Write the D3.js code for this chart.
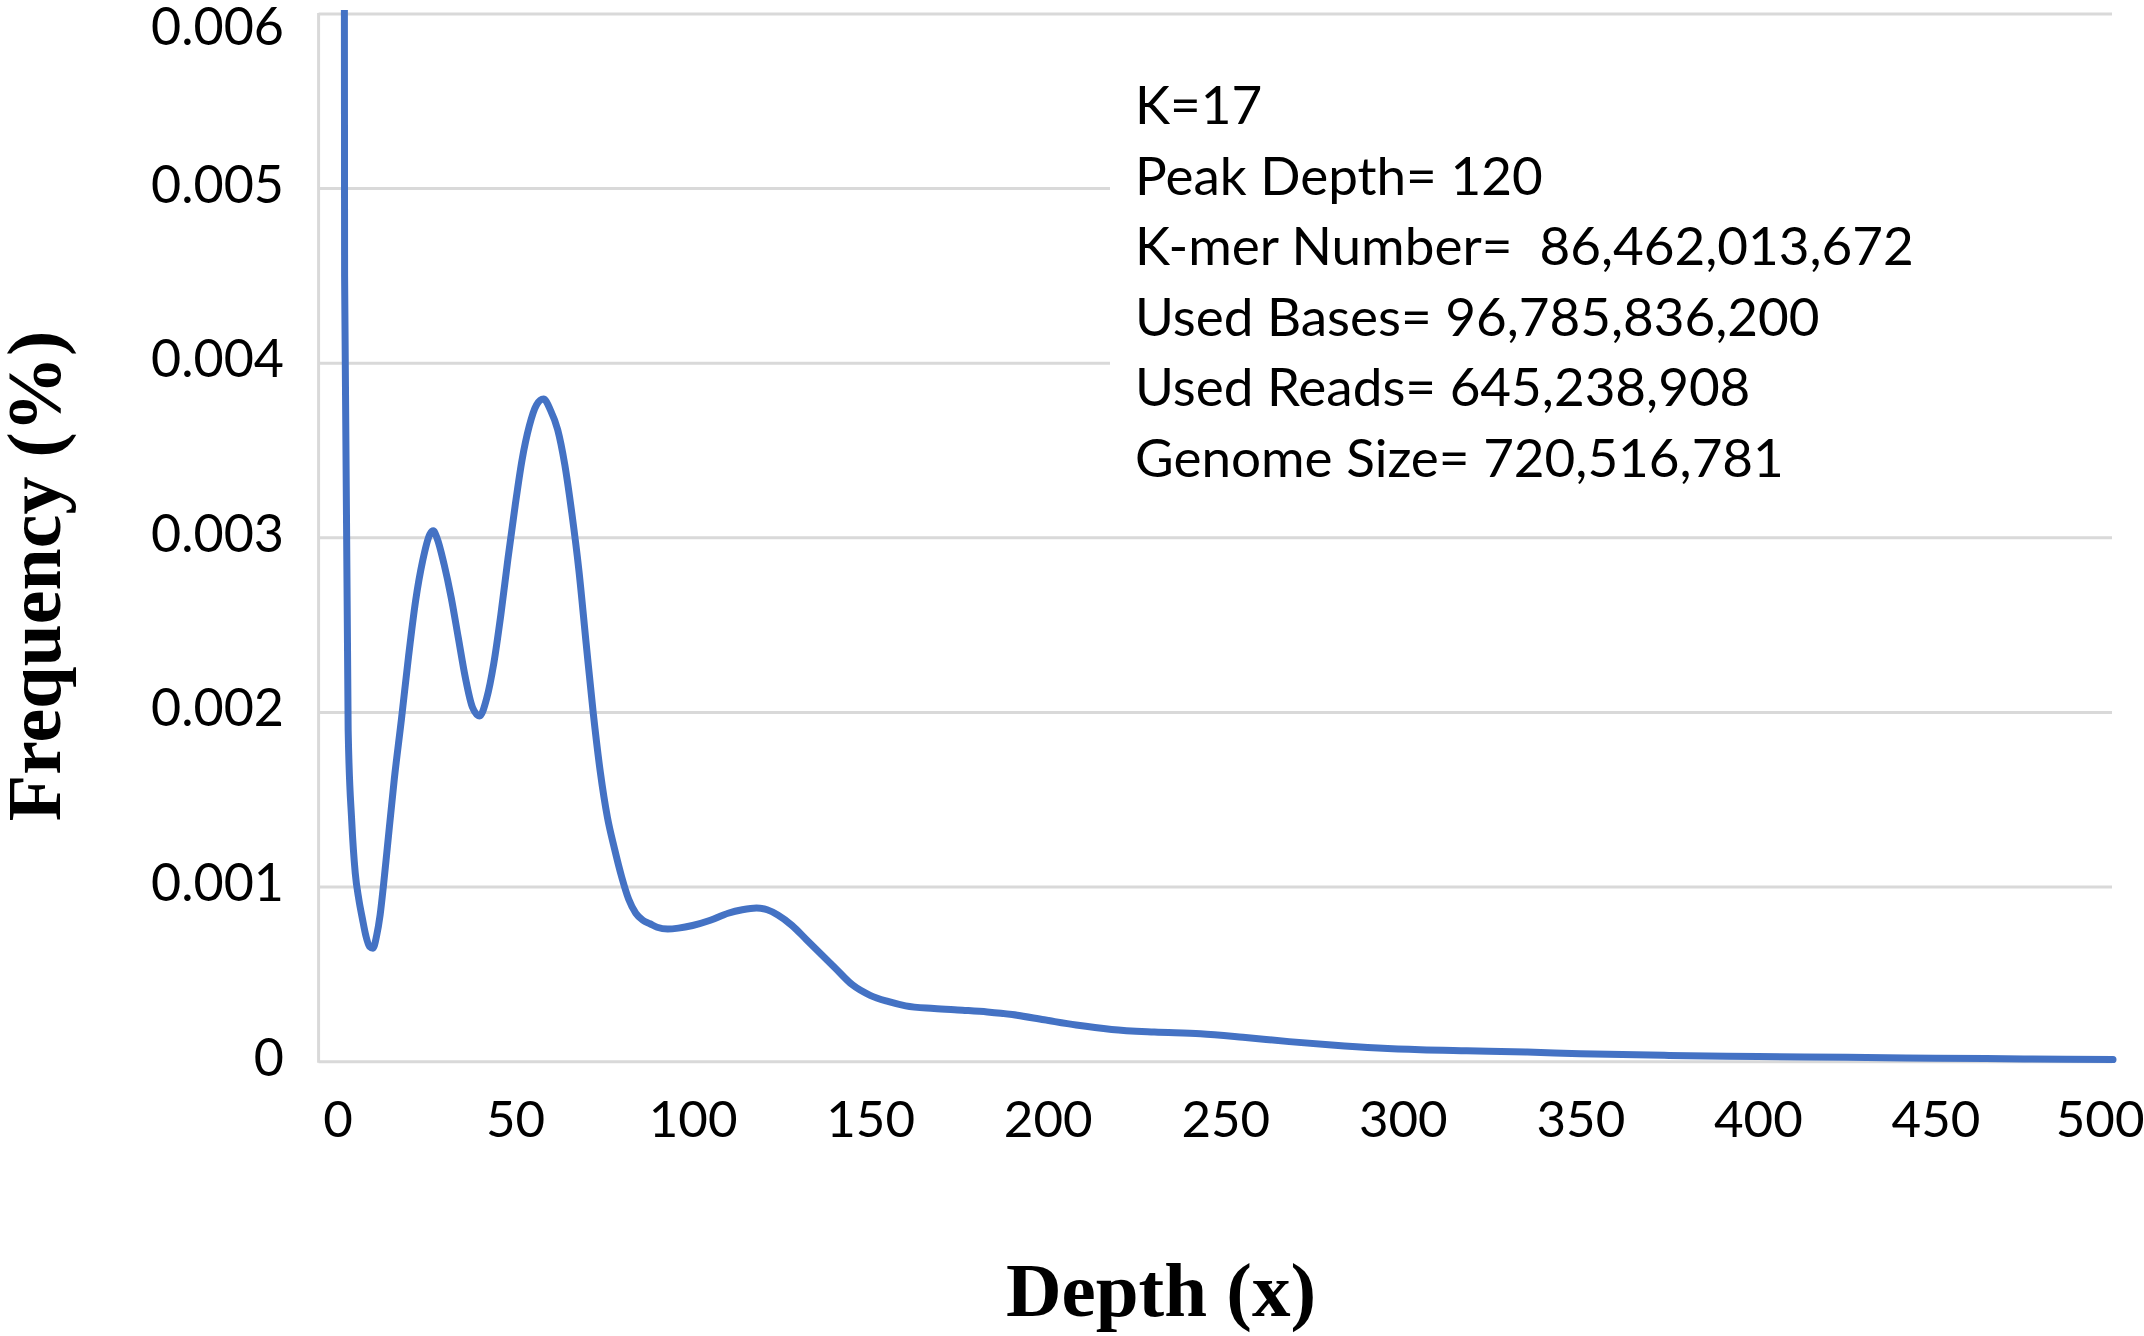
<!DOCTYPE html>
<html>
<head>
<meta charset="utf-8">
<script src="https://cdn.jsdelivr.net/npm/d3@7"></script>
<style>
  html, body { margin: 0; padding: 0; background: #fff; }
  svg { display: block; }
</style>
</head>
<body>
<div id="chart"></div>
<script>
// k-mer depth distribution
const depths = [1, 2, 3, 4, 5, 6, 7, 8, 9, 10, 11, 12, 13, 14, 16, 18, 20, 22, 24, 26, 27, 28, 30, 32, 34, 36, 38, 40, 42, 44, 46, 48, 50, 52, 54, 56, 58, 60, 62, 64, 66, 68, 70, 72, 74, 76, 78, 80, 82, 84, 86, 88, 90, 93, 96, 100, 105, 110, 114, 118, 121, 124, 128, 132, 136, 140, 145, 150, 155, 160, 168, 176, 183, 190, 199, 208, 218, 230, 243, 255, 268, 280, 293, 305, 318, 335, 350, 375, 400, 425, 450, 475, 500];
const frequency = [0.03, 0.0045, 0.0019, 0.00138, 0.00108, 0.00093, 0.00082, 0.00072, 0.00066, 0.00065, 0.00072, 0.00084, 0.00102, 0.00122, 0.00162, 0.00196, 0.00232, 0.00264, 0.00287, 0.00302, 0.00304, 0.003, 0.00285, 0.00266, 0.00243, 0.0022, 0.00203, 0.00198, 0.00208, 0.00228, 0.00256, 0.00288, 0.00318, 0.00345, 0.00364, 0.00376, 0.003795, 0.00373, 0.00362, 0.00342, 0.00314, 0.00281, 0.0024, 0.002, 0.00166, 0.0014, 0.00122, 0.00106, 0.00093, 0.00085, 0.00081, 0.00079, 0.00077, 0.00076, 0.000765, 0.00078, 0.00081, 0.00085, 0.00087, 0.00088, 0.00087, 0.00084, 0.00078, 0.0007, 0.00062, 0.00054, 0.00044, 0.00038, 0.000345, 0.00032, 0.000305, 0.000295, 0.000285, 0.00027, 0.00024, 0.00021, 0.000185, 0.00017, 0.00016, 0.00014, 0.000115, 0.000095, 0.000078, 0.000068, 0.000062, 0.000055, 0.000046, 0.000036, 0.00003, 0.000025, 0.00002, 0.000016, 0.000012];

const xTicks = [0, 50, 100, 150, 200, 250, 300, 350, 400, 450, 500];
const yTicks = [0, 0.001, 0.002, 0.003, 0.004, 0.005, 0.006];
const yTickLabels = ["0", "0.001", "0.002", "0.003", "0.004", "0.005", "0.006"];

const annotationLines = [
    "K=17",
    "Peak Depth= 120",
    "K-mer Number=  86,462,013,672",
    "Used Bases= 96,785,836,200",
    "Used Reads= 645,238,908",
    "Genome Size= 720,516,781"
];

const xTitle = "Depth (x)";
const yTitle = "Frequency (%)";

const WIDTH = 2144, HEIGHT = 1336;
const COLORS = {
    line: '#4472C4',
    grid: '#d9d9d9',
    text: '#000'
};
const LABEL_FONT = "Lato, 'Open Sans', sans-serif";
const TITLE_FONT = "'Liberation Serif', 'Times New Roman', serif";

const plot = { left: 318.6, right: 2112, top: 14, bottom: 1061.7 };

const svg = d3.select('#chart').append('svg')
    .attr('width', WIDTH)
    .attr('height', HEIGHT);

svg.append('rect').attr('width', WIDTH).attr('height', HEIGHT).attr('fill', '#fff');

const x = d3.scaleLinear().domain([0, 500]).range([337.5, 2113]);
const y = d3.scaleLinear().domain([0, 0.006]).range([plot.bottom, plot.top]);

// gridlines
svg.append('g')
    .selectAll('line')
    .data(yTicks)
    .enter()
    .append('line')
    .attr('x1', plot.left)
    .attr('x2', plot.right)
    .attr('y1', (d) => y(d))
    .attr('y2', (d) => y(d))
    .attr('stroke', COLORS.grid)
    .attr('stroke-width', 3);

// left axis line
svg.append('line')
    .attr('x1', plot.left).attr('x2', plot.left)
    .attr('y1', plot.top - 1).attr('y2', plot.bottom + 1)
    .attr('stroke', COLORS.grid)
    .attr('stroke-width', 3);

// white panel behind the stats text
svg.append('rect')
    .attr('x', 1110).attr('y', 40)
    .attr('width', WIDTH - 1110).attr('height', 475)
    .attr('fill', '#fff');

// curve, clipped to the plot area
svg.append('clipPath').attr('id', 'plotClip')
    .append('rect')
    .attr('x', plot.left).attr('y', plot.top - 4)
    .attr('width', plot.right - plot.left + 10)
    .attr('height', plot.bottom - plot.top + 10);

const points = depths.map((d, i) => ({ depth: d, freq: frequency[i] }));

const line = d3.line()
    .x((d) => x(d.depth))
    .y((d) => y(d.freq))
    .curve(d3.curveMonotoneX);

svg.append('path')
    .datum(points)
    .attr('clip-path', 'url(#plotClip)')
    .attr('d', line)
    .attr('fill', 'none')
    .attr('stroke', COLORS.line)
    .attr('stroke-width', 7)
    .attr('stroke-linejoin', 'round')
    .attr('stroke-linecap', 'round');

// y tick labels
svg.append('g')
    .selectAll('text')
    .data(yTicks)
    .enter()
    .append('text')
    .attr('x', 284)
    .attr('y', (d) => Math.max(y(d) - 6, 25))
    .attr('text-anchor', 'end')
    .attr('dominant-baseline', 'central')
    .attr('font-family', LABEL_FONT)
    .attr('font-size', 52)
    .attr('fill', COLORS.text)
    .text((d, i) => yTickLabels[i]);

// x tick labels
const xAxis = d3.axisBottom(x)
    .tickValues(xTicks)
    .tickSize(0)
    .tickPadding(0)
    .tickFormat(d3.format('d'));

const xAxisG = svg.append('g')
    .attr('transform', 'translate(0,1117)')
    .call(xAxis);
xAxisG.select('.domain').remove();
xAxisG.selectAll('text')
    .attr('dy', null)
    .attr('y', 0)
    .attr('dominant-baseline', 'central')
    .attr('font-family', LABEL_FONT)
    .attr('font-size', 51)
    .attr('fill', COLORS.text);

// keep the last label mostly on the page, as in the original
xAxisG.selectAll('.tick').each(function (d) {
    const t = d3.select(this).select('text');
    const w = this.querySelector('text').getComputedTextLength();
    const overflow = x(d) + w / 2 - WIDTH;
    if (overflow > 0) t.attr('x', -overflow);
});

// stats block
svg.append('g')
    .selectAll('text')
    .data(annotationLines)
    .enter()
    .append('text')
    .attr('x', 1135)
    .attr('y', (d, i) => 124 + i * 70.5)
    .attr('xml:space', 'preserve')
    .style('white-space', 'pre')
    .attr('font-family', LABEL_FONT)
    .attr('font-size', 53)
    .attr('fill', COLORS.text)
    .text((d) => d);

// axis titles
svg.append('text')
    .attr('x', 1161)
    .attr('y', 1316)
    .attr('text-anchor', 'middle')
    .attr('font-family', TITLE_FONT)
    .attr('font-weight', 'bold')
    .attr('font-size', 77)
    .attr('fill', COLORS.text)
    .text(xTitle);

svg.append('text')
    .attr('transform', 'translate(60,576) rotate(-90)')
    .attr('text-anchor', 'middle')
    .attr('font-family', TITLE_FONT)
    .attr('font-weight', 'bold')
    .attr('font-size', 76)
    .attr('fill', COLORS.text)
    .text(yTitle);
</script>
</body>
</html>
